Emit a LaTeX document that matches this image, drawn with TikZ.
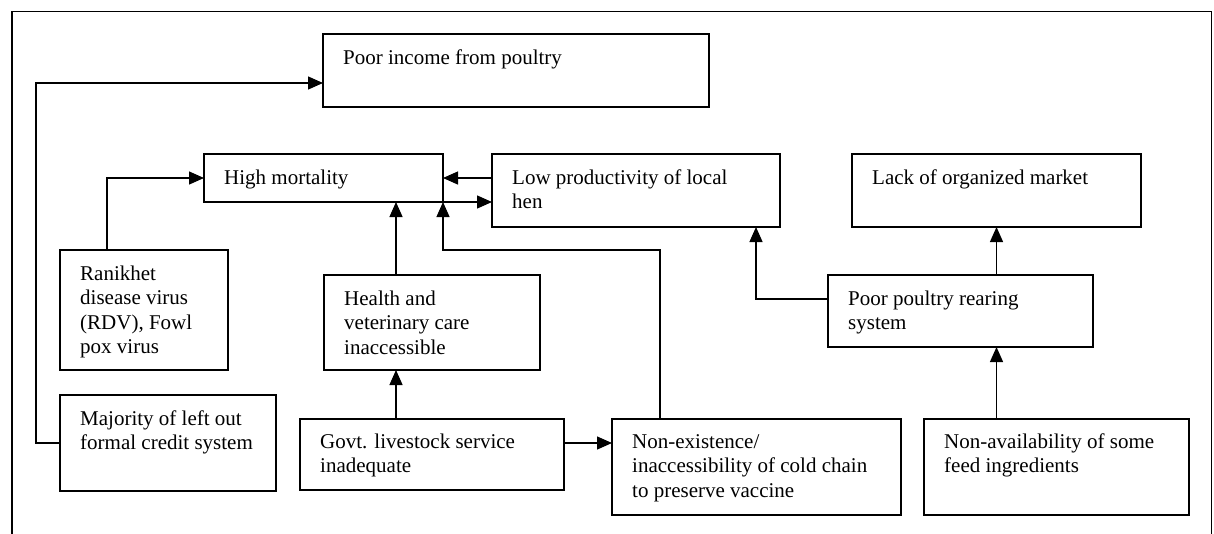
\documentclass[tikz,border=0pt]{standalone}
\usepackage{fontspec}
\setmainfont{Liberation Serif}
\usetikzlibrary{arrows.meta,calc}
\begin{document}
\begin{tikzpicture}[x=1pt,y=-1pt,
  box/.style={draw, line width=1.3pt, inner sep=0pt, outer sep=0pt, anchor=north west},
  lbl/.style={anchor=north west, inner sep=0pt, align=left, font=\fontsize{21}{24.5}\selectfont},
  arr/.style={line width=1.3pt, -{Triangle[length=15pt,width=13pt]}}]
\useasboundingbox (0,0) rectangle (1214,533);
\draw[line width=1.5pt] (12,545) -- (12,11.5) -- (1211.5,11.5) -- (1211.5,545);
% boxes
\node[box, minimum width=386pt, minimum height=73pt] (pi) at (323,34) {};
\node[box, minimum width=239pt, minimum height=48pt] (hm) at (204,154) {};
\node[box, minimum width=288pt, minimum height=73pt] (lp) at (492,154) {};
\node[box, minimum width=289pt, minimum height=73pt] (lom) at (852,154) {};
\node[box, minimum width=168pt, minimum height=120pt] (rk) at (60,250) {};
\node[box, minimum width=216pt, minimum height=95pt] (hv) at (324,275) {};
\node[box, minimum width=265pt, minimum height=72pt] (pp) at (828,275) {};
\node[box, minimum width=216pt, minimum height=96pt] (maj) at (60,395) {};
\node[box, minimum width=264pt, minimum height=71pt] (govt) at (300,419) {};
\node[box, minimum width=289pt, minimum height=96pt] (ne) at (612,419) {};
\node[box, minimum width=265pt, minimum height=96pt] (na) at (924,419) {};
% texts
\node[lbl] (pit) at ($(pi.north west)+(20,13)$) {\strut Poor income from poultry};
\node[lbl] (hmt) at ($(hm.north west)+(20,13)$) {\strut High mortality};
\node[lbl] (lpt) at ($(lp.north west)+(20,13)$) {\strut Low productivity of local\\hen};
\node[lbl] (lomt) at ($(lom.north west)+(20,13)$) {\strut Lack of organized market};
\node[lbl] (rkt) at ($(rk.north west)+(20,13)$) {\strut Ranikhet\\disease virus\\(RDV), Fowl\\pox virus};
\node[lbl] (hvt) at ($(hv.north west)+(20,13)$) {\strut Health and\\veterinary care\\inaccessible};
\node[lbl] (ppt) at ($(pp.north west)+(20,13)$) {\strut Poor poultry rearing\\system};
\node[lbl] (majt) at ($(maj.north west)+(20,13)$) {\strut Majority of left out\\formal credit system};
\node[lbl] (govtt) at ($(govt.north west)+(20,12)$) {\strut Govt. livestock service\\inadequate};
\node[lbl] (net) at ($(ne.north west)+(20,12)$) {\strut Non-existence/\\inaccessibility of cold chain\\to preserve vaccine};
\node[lbl] (nat) at ($(na.north west)+(20,12)$) {\strut Non-availability of some\\feed ingredients};
% connectors
\draw[arr] (maj.west) -| (36,83) -- (pi.west |- 0,83);
\draw[arr] (rk.north -| 107,0) |- (hm.west);
\draw[arr] (lp.west |- hm.east) -- (hm.east);
\draw[arr] (hm.south east) -- (lp.west |- hm.south east);
\draw[arr] (hv.north -| 396,0) -- (hm.south -| 396,0);
\draw[arr] (govt.north -| 396,0) -- (hv.south -| 396,0);
\draw[arr] (govt.east |- 0,443) -- (ne.west |- 0,443);
\draw[arr] (ne.north -| 660,0) |- (443,250) -- (hm.south east);
\draw[arr] (pp.west |- 0,299) -| (lp.south -| 756,0);
\draw[arr] (pp.north -| lom.south) -- (lom.south);
\draw[arr] (na.north -| lom.south) -- (pp.south -| lom.south);
\end{tikzpicture}
\end{document}
